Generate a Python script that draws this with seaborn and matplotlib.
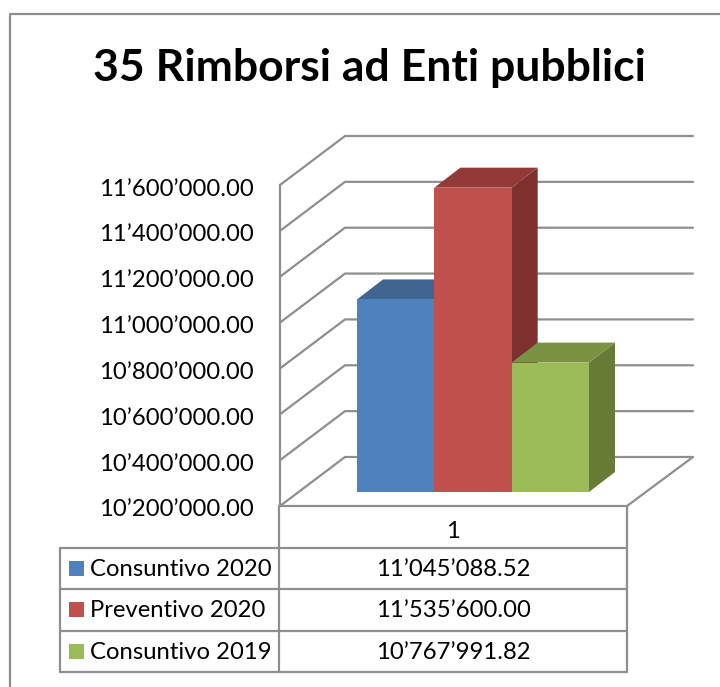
import matplotlib
matplotlib.use("Agg")
import matplotlib.pyplot as plt
from matplotlib.patches import Polygon, Rectangle
from matplotlib.ticker import FuncFormatter
from matplotlib.transforms import ScaledTranslation
import seaborn as sns

# data
title = "35 Rimborsi ad Enti pubblici"
series = ["Consuntivo 2020", "Preventivo 2020", "Consuntivo 2019"]
values = [11045088.52, 11535600.00, 10767991.82]
y_ticks = [10200000, 10400000, 10600000, 10800000, 11000000, 11200000, 11400000, 11600000]
category_label = "1"

front = ["#4f81bd", "#c0504d", "#9bbb59"]
top = ["#40658f", "#933a38", "#7a9343"]
side = ["#3a5b82", "#7d302e", "#677a36"]
line_col = "#8e8e8e"
lw = 1.6
fs = 17.2
W, H = 720, 687


def fmt(v, pos=None):
    return f"{v:,.2f}".replace(",", "’")


def box(l, t, r, b):
    # pixels from the top left to figure fraction
    return [l / W, 1 - b / H, (r - l) / W, (b - t) / H]


sns.set_theme(style="white")
plt.rcParams["font.family"] = ["Lato", "DejaVu Sans"]
fig = plt.figure(figsize=(7.2, 6.87), dpi=100)

# frame, title and table, in pixels
frame = fig.add_axes([0, 0, 1, 1])
frame.set_xlim(0, W)
frame.set_ylim(H, 0)
frame.axis("off")
frame.plot([W, 10, 10], [13.5, 13.5, H], color=line_col, lw=lw)
frame.text(369, 67.5, title, ha="center", va="center", fontsize=32, fontweight="bold", color="black")

for y in [548, 589, 631, 672]:
    frame.plot([60, 627], [y, y], color=line_col, lw=lw)
frame.plot([60, 60], [548, 672], color=line_col, lw=lw)
frame.plot([279, 279], [506, 672], color=line_col, lw=lw)
frame.plot([627, 627], [506, 672], color=line_col, lw=lw)
frame.text(453, 531.5, category_label, ha="center", va="center", fontsize=fs, color="black")
for i, name in enumerate(series):
    y = 568 + i * 41.7
    frame.add_patch(Rectangle((69, y - 7.5), 15, 15, color=front[i], lw=0))
    frame.text(90, y + 1, name, ha="left", va="center", fontsize=fs, color="black")
    frame.text(453, y + 1, fmt(values[i]), ha="center", va="center", fontsize=fs, color="black")

# walls and floor, x in pixels, y in value
wall = fig.add_axes(box(280, 185, 627, 506))
wall.patch.set_alpha(0)
wall.set_xlim(280, 627)
wall.set_ylim(y_ticks[0], y_ticks[-1])
depth = 49 * (y_ticks[-1] - y_ticks[0]) / 321
for v in y_ticks:
    wall.plot([280, 345, 693], [v, v + depth, v + depth], color=line_col, lw=lw, clip_on=False)
wall.plot([280, 627, 693], [y_ticks[0], y_ticks[0], y_ticks[0] + depth], color=line_col, lw=lw, clip_on=False)
sns.despine(ax=wall, top=True, right=True, bottom=True, left=False)
wall.spines["left"].set_color(line_col)
wall.spines["left"].set_linewidth(lw)
wall.set_xticks([])
wall.set_yticks(y_ticks)
wall.yaxis.set_major_formatter(FuncFormatter(fmt))
wall.tick_params(axis="y", length=0, pad=19, labelsize=fs, labelcolor="black")
for lab in wall.get_yticklabels():
    lab.set_transform(lab.get_transform() + ScaledTranslation(0, -2 / 100, fig.dpi_scale_trans))

# bars, one category slot per series
ax = fig.add_axes(box(357, 173, 589, 492))
ax.patch.set_alpha(0)
sns.barplot(x=series, y=values, hue=series, palette=front, width=1, dodge=False, legend=False,
            saturation=1, linewidth=0, ax=ax)
ax.set_xlim(-0.5, 2.5)
ax.set_ylim(y_ticks[0], y_ticks[-1])
ax.axis("off")

dx = 26 / (232 / 3)
dy = 20 * (y_ticks[-1] - y_ticks[0]) / 319
for i, v in enumerate(values):
    l, r = i - 0.5, i + 0.5
    base = y_ticks[0]
    z = 3 + i
    ax.add_patch(Polygon([(r, base), (r + dx, base + dy), (r + dx, v + dy), (r, v)],
                         facecolor=side[i], edgecolor="none", clip_on=False, zorder=z))
    ax.add_patch(Polygon([(l, v), (l + dx, v + dy), (r + dx, v + dy), (r, v)],
                         facecolor=top[i], edgecolor="none", clip_on=False, zorder=z))
    ax.patches[i].set_zorder(z + 0.5)

fig.savefig("out.png", dpi=100)
